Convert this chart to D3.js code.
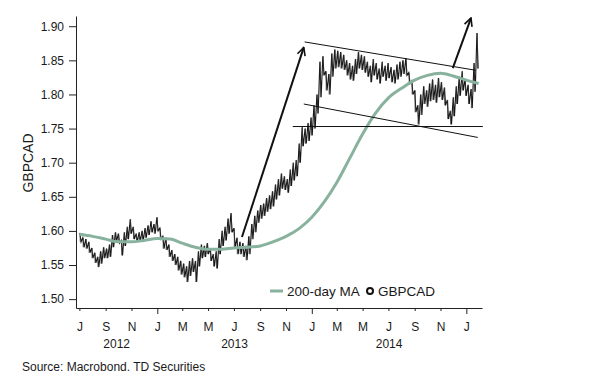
<!DOCTYPE html>
<html>
<head>
<meta charset="utf-8">
<script src="https://cdn.jsdelivr.net/npm/d3@7"></script>
<style>
  body { margin: 0; background: #fff; }
  text { font-family: "Liberation Sans", Arial, sans-serif; fill: #1a1a1a; }
</style>
</head>
<body>
<div class="chart"></div>
<script>
// weekly GBPCAD highs / lows, one pair per week starting Monday 2 Jul 2012
var firstWeek = '2012-07-02';
var weekHigh = [
  1.597, 1.590, 1.588, 1.584, 1.575, 1.568, 1.562, 1.570, 1.576, 1.574,
  1.580, 1.594, 1.598, 1.596, 1.586, 1.598, 1.606, 1.617, 1.606, 1.596,
  1.598, 1.600, 1.604, 1.608, 1.614, 1.610, 1.620,
  1.604, 1.592, 1.590, 1.580, 1.572, 1.566, 1.562, 1.556, 1.552, 1.548,
  1.556, 1.560, 1.556, 1.570, 1.580, 1.578, 1.582, 1.574, 1.566, 1.570,
  1.588, 1.600, 1.606, 1.618, 1.626, 1.604, 1.590, 1.584, 1.582, 1.578,
  1.592, 1.610, 1.622, 1.630, 1.638, 1.640, 1.648, 1.652, 1.658, 1.668,
  1.676, 1.684, 1.680, 1.676, 1.690, 1.700, 1.704, 1.728, 1.752, 1.750,
  1.758, 1.766,
  1.784, 1.800, 1.848, 1.856, 1.834, 1.830, 1.860, 1.866, 1.864, 1.862,
  1.858, 1.850, 1.846, 1.842, 1.852, 1.862, 1.858, 1.856, 1.848, 1.842,
  1.852, 1.846, 1.838, 1.848, 1.842, 1.846, 1.840, 1.836, 1.844, 1.848,
  1.850, 1.853, 1.832, 1.820, 1.806, 1.784, 1.800, 1.812, 1.806, 1.816,
  1.822, 1.814, 1.824, 1.818, 1.810, 1.792, 1.776, 1.796, 1.812, 1.826,
  1.834, 1.822,
  1.814, 1.808, 1.846, 1.890
];
var weekLow = [
  1.584, 1.576, 1.574, 1.568, 1.560, 1.553, 1.547, 1.552, 1.560, 1.560,
  1.562, 1.576, 1.585, 1.582, 1.564, 1.578, 1.588, 1.596, 1.588, 1.584,
  1.585, 1.586, 1.590, 1.594, 1.598, 1.596, 1.600,
  1.588, 1.574, 1.572, 1.562, 1.556, 1.550, 1.542, 1.536, 1.532, 1.525,
  1.534, 1.540, 1.525, 1.548, 1.560, 1.562, 1.566, 1.556, 1.548, 1.545,
  1.566, 1.578, 1.586, 1.596, 1.598, 1.576, 1.566, 1.566, 1.562, 1.557,
  1.566, 1.588, 1.598, 1.612, 1.618, 1.622, 1.628, 1.632, 1.636, 1.646,
  1.652, 1.662, 1.660, 1.656, 1.666, 1.674, 1.680, 1.700, 1.724, 1.728,
  1.732, 1.740,
  1.750, 1.772, 1.796, 1.828, 1.806, 1.800, 1.826, 1.838, 1.840, 1.838,
  1.836, 1.828, 1.822, 1.820, 1.830, 1.838, 1.836, 1.832, 1.826, 1.818,
  1.828, 1.822, 1.816, 1.826, 1.820, 1.824, 1.818, 1.816, 1.822, 1.826,
  1.830, 1.828, 1.816, 1.800, 1.774, 1.756, 1.770, 1.786, 1.782, 1.790,
  1.792, 1.788, 1.796, 1.792, 1.784, 1.764, 1.756, 1.768, 1.786, 1.798,
  1.806, 1.798,
  1.786, 1.780, 1.804, 1.838
];

// 200-day moving average, read at the start of each month
var maDates = [
  '2012-07-01', '2012-08-01', '2012-09-01', '2012-10-01', '2012-11-01', '2012-12-01',
  '2013-01-01', '2013-02-01', '2013-03-01', '2013-04-01', '2013-05-01', '2013-06-01',
  '2013-07-01', '2013-08-01', '2013-09-01', '2013-10-01', '2013-11-01', '2013-12-01',
  '2014-01-01', '2014-02-01', '2014-03-01', '2014-04-01', '2014-05-01', '2014-06-01',
  '2014-07-01', '2014-08-01', '2014-09-01', '2014-10-01', '2014-11-01', '2014-12-01',
  '2015-01-01', '2015-01-30'
];
var maValues = [
  1.595, 1.592, 1.588, 1.584, 1.584, 1.586,
  1.589, 1.588, 1.582, 1.576, 1.573, 1.573,
  1.575, 1.576, 1.578, 1.584, 1.592, 1.603,
  1.620, 1.644, 1.671, 1.707, 1.742, 1.773,
  1.795, 1.809, 1.821, 1.828, 1.831, 1.827,
  1.821, 1.816
];

// hand-drawn channel lines and arrows: [date, level] pairs
var trendLines = [
  [['2013-12-15', 1.877], ['2015-01-23', 1.8355]],
  [['2013-12-13', 1.786], ['2015-01-28', 1.737]],
  [['2013-11-17', 1.753], ['2015-02-09', 1.753]]
];
var arrows = [
  [['2013-07-20', 1.591], ['2013-12-13', 1.869]],
  [['2014-11-30', 1.8385], ['2015-01-12', 1.912]]
];

var yTicks = [1.50, 1.55, 1.60, 1.65, 1.70, 1.75, 1.80, 1.85, 1.90];
var monthLetters = ['J', 'F', 'M', 'A', 'M', 'J', 'J', 'A', 'S', 'O', 'N', 'D'];
var yearLabels = [
  { year: '2012', from: '2012-06-23', to: '2013-01-01' },
  { year: '2013', from: '2013-01-01', to: '2014-01-01' },
  { year: '2014', from: '2014-01-01', to: '2015-01-01' }
];

var parse = d3.timeParse('%Y-%m-%d');
var width = 610, height = 377;

var svg = d3.select('.chart')
  .append('svg')
    .attr('width', width)
    .attr('height', height);

var x = d3.scaleTime()
  .domain([parse('2012-06-23'), parse('2015-02-07')])
  .range([76, 482]);

var y = d3.scaleLinear()
  .domain([1.487, 1.915])
  .range([308, 16]);

// price band: zigzag high -> low through each week
var start = parse(firstWeek);
var pricePts = [];
weekHigh.forEach(function(h, i) {
  var d = d3.timeDay.offset(start, i * 7);
  pricePts.push([d, h]);
  pricePts.push([d3.timeDay.offset(d, 3), weekLow[i]]);
});

svg.append('path')
  .datum(pricePts)
  .attr('fill', 'none')
  .attr('stroke', '#161616')
  .attr('stroke-width', 1.1)
  .attr('stroke-linejoin', 'miter')
  .attr('d', d3.line().x(d => x(d[0])).y(d => y(d[1])));

svg.selectAll('.bar')
  .data(weekHigh)
  .enter().append('line')
    .attr('class', 'bar')
    .attr('x1', (d, i) => x(d3.timeDay.offset(start, i * 7 + 1)))
    .attr('x2', (d, i) => x(d3.timeDay.offset(start, i * 7 + 1)))
    .attr('y1', d => y(d))
    .attr('y2', (d, i) => y(weekLow[i]))
    .attr('stroke', '#333')
    .attr('stroke-width', 0.8);

// moving average
svg.append('path')
  .datum(maDates.map((d, i) => [parse(d), maValues[i]]))
  .attr('fill', 'none')
  .attr('stroke', '#88b29d')
  .attr('stroke-width', 3)
  .attr('d', d3.line().curve(d3.curveMonotoneX).x(d => x(d[0])).y(d => y(d[1])));

// channel lines
svg.selectAll('.trend')
  .data(trendLines)
  .enter().append('line')
    .attr('class', 'trend')
    .attr('x1', d => x(parse(d[0][0])))
    .attr('y1', d => y(d[0][1]))
    .attr('x2', d => x(parse(d[1][0])))
    .attr('y2', d => y(d[1][1]))
    .attr('stroke', '#111')
    .attr('stroke-width', 1);

svg.append('defs').append('marker')
    .attr('id', 'head')
    .attr('viewBox', '0 0 10 10')
    .attr('refX', 9)
    .attr('refY', 5)
    .attr('markerWidth', 5)
    .attr('markerHeight', 5)
    .attr('orient', 'auto')
  .append('path')
    .attr('d', 'M1,1 L9,5 L1,9')
    .attr('fill', 'none')
    .attr('stroke', '#111')
    .attr('stroke-width', 1.6);

svg.selectAll('.arrow')
  .data(arrows)
  .enter().append('line')
    .attr('class', 'arrow')
    .attr('x1', d => x(parse(d[0][0])))
    .attr('y1', d => y(d[0][1]))
    .attr('x2', d => x(parse(d[1][0])))
    .attr('y2', d => y(d[1][1]))
    .attr('stroke', '#111')
    .attr('stroke-width', 2)
    .attr('marker-end', 'url(#head)');

// axes
var yAxis = svg.append('g')
  .attr('transform', 'translate(76,0)')
  .call(d3.axisLeft(y)
    .tickValues(yTicks)
    .tickSize(7)
    .tickSizeOuter(0)
    .tickPadding(5)
    .tickFormat(d3.format('.2f')));
yAxis.selectAll('text').style('font-size', '12px').attr('fill', '#1a1a1a');
yAxis.selectAll('line, path').attr('stroke', '#222');

var monthTicks = d3.timeMonth.every(2).range(parse('2012-07-01'), parse('2015-01-02'));
var xAxis = svg.append('g')
  .attr('transform', 'translate(0,308)')
  .call(d3.axisBottom(x)
    .tickValues(monthTicks)
    .tickSize(3)
    .tickSizeOuter(0)
    .tickPadding(11)
    .tickFormat(d => monthLetters[d.getMonth()]));
xAxis.selectAll('text').style('font-size', '12px').attr('fill', '#1a1a1a');
xAxis.selectAll('line, path').attr('stroke', '#222');
xAxis.selectAll('.tick line')
  .filter(d => d.getMonth() === 0)
  .attr('y2', 6);

svg.selectAll('.year')
  .data(yearLabels)
  .enter().append('text')
    .attr('class', 'year')
    .attr('x', d => (x(parse(d.from)) + x(parse(d.to))) / 2)
    .attr('y', 348)
    .attr('text-anchor', 'middle')
    .style('font-size', '12px')
    .text(d => d.year);

svg.append('text')
  .attr('transform', 'translate(33,163) rotate(-90)')
  .attr('text-anchor', 'middle')
  .style('font-size', '14px')
  .text('GBPCAD');

// legend
var legend = svg.append('g').attr('transform', 'translate(270,291)');
legend.append('line')
  .attr('x1', 0).attr('x2', 13)
  .attr('stroke', '#88b29d')
  .attr('stroke-width', 3);
legend.append('text')
  .attr('x', 17).attr('y', 4.5)
  .style('font-size', '13.5px')
  .text('200-day MA');
legend.append('circle')
  .attr('cx', 100).attr('cy', 0).attr('r', 3)
  .attr('fill', '#fff')
  .attr('stroke', '#111')
  .attr('stroke-width', 2);
legend.append('text')
  .attr('x', 108).attr('y', 4.5)
  .style('font-size', '13.5px')
  .text('GBPCAD');

svg.append('text')
  .attr('x', 22).attr('y', 371)
  .style('font-size', '12px')
  .text('Source: Macrobond. TD Securities');
</script>
</body>
</html>
